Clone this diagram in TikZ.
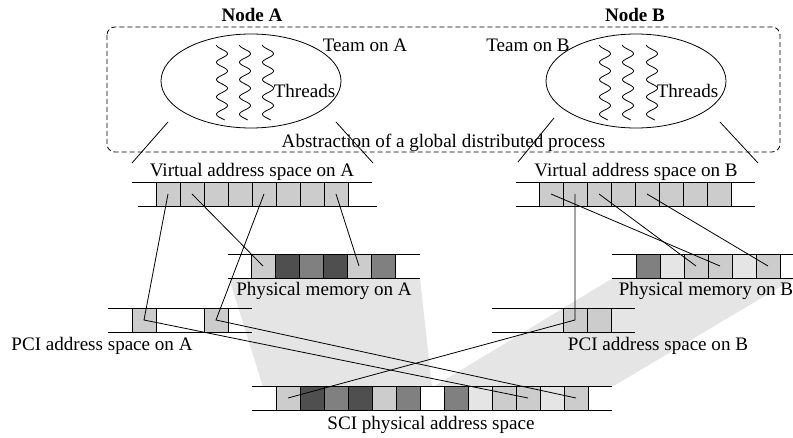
\documentclass[tikz,border=0pt]{standalone}
\usepackage{fontspec}
\setmainfont{Liberation Serif}
\usetikzlibrary{chains,positioning,shapes.geometric}
\definecolor{lgray}{gray}{0.8}
\definecolor{mgray}{gray}{0.5}
\definecolor{dgray}{gray}{0.31}
\definecolor{vlgray}{gray}{0.9}
\definecolor{bggray}{gray}{0.9}

\begin{document}
\begin{tikzpicture}[
        x=0.75pt, y=-0.75pt, node distance = 0pt, line width=0.6pt,
        MyCell/.style={draw, fill=#1, minimum size=18pt, inner sep=0pt, outer sep=0pt},
        MyLabel/.style={inner sep=0pt, anchor=base, font=\fontsize{14.3}{17}\selectfont},
        MyTitle/.style={MyLabel, font=\fontsize{14.3}{17}\selectfont\bfseries},
        MyTeam/.style={draw, ellipse, minimum width=135pt, minimum height=70.5pt, inner sep=0pt},
        wiggle/.pic={\draw plot[smooth, variable=\s, domain=0:75, samples=90] ({-5.5*cos(20.8*\s)}, \s);},
        ]
    \useasboundingbox (0,0) rectangle (793,438);

    % mapping areas
    \fill[bggray] (229,278) -- (420,278) -- (432,387) -- (263,387) -- cycle;
    \fill[bggray] (433,387) -- (613,278) -- (795,278) -- (612,387) -- cycle;

    % global process
    \draw[dash pattern=on 3.75pt off 2.25pt, rounded corners=6pt] (107,27) rectangle (780,152);
    \node[MyTeam] (teamA) at (251,81) {};
    \node[MyTeam] (teamB) at (636,81) {};
    \foreach \p in {222,245,268,605,628,652} \pic at (\p,45) {wiggle};

    \node[MyTitle] (nodeA) at (252,22) {Node A};
    \node[MyTitle] (nodeB) at (635,22) {Node B};
    \node[MyLabel] (teamAlbl) at (365,52) {Team on A};
    \node[MyLabel] (teamBlbl) at (528,52) {Team on B};
    \node[MyLabel] (thrA) at (304.5,98) {Threads};
    \node[MyLabel] (thrB) at (687.5,98) {Threads};
    \node[MyLabel] (abstr) at (443.5,148) {Abstraction of a global distributed process};

    \coordinate (eA1) at (168,122); \coordinate (vA1) at (132,163);
    \coordinate (eA2) at (336,122); \coordinate (vA2) at (373,163);
    \coordinate (eB1) at (554,118); \coordinate (vB1) at (518,162);
    \coordinate (eB2) at (720,122); \coordinate (vB2) at (758,163);
    \draw (eA1) -- (vA1);
    \draw (eA2) -- (vA2);
    \draw (eB1) -- (vB1);
    \draw (eB2) -- (vB2);

    % virtual address spaces
    \draw (132,182) -- (372,182) (138,206) -- (377,206);
    \begin{scope}[start chain = going right, shift={(168,194)}]
        \foreach \i in {1,...,8} \node[MyCell=lgray, on chain] (va\i) {};
    \end{scope}
    \draw (516,182) -- (755,182) (516,206) -- (755,206);
    \begin{scope}[start chain = going right, shift={(551,194)}]
        \foreach \i in {1,...,8} \node[MyCell=lgray, on chain] (vb\i) {};
    \end{scope}
    \node[MyLabel] (vaslblA) at (252,177) {Virtual address space on A};
    \node[MyLabel] (vaslblB) at (636,177) {Virtual address space on B};

    % physical memories
    \draw (228,254) -- (420,254) (228,278) -- (420,278);
    \begin{scope}[start chain = going right, shift={(263,266)}]
        \foreach \c [count=\i] in {lgray,dgray,mgray,dgray,lgray,mgray}
            \node[MyCell=\c, on chain] (pa\i) {};
    \end{scope}
    \draw (612,254) -- (793,254) (612,278) -- (793,278);
    \begin{scope}[start chain = going right, shift={(648,266)}]
        \foreach \c [count=\i] in {mgray,vlgray,lgray,lgray,vlgray,lgray}
            \node[MyCell=\c, on chain] (pb\i) {};
    \end{scope}
    \node[MyLabel] (pmlblA) at (324,296) {Physical memory on A};
    \node[MyLabel] (pmlblB) at (706,296) {Physical memory on B};

    % PCI address spaces
    \draw (108,308) -- (252,308) (108,332) -- (252,332);
    \node[MyCell=lgray] (pcia1) at (144,320) {};
    \node[MyCell=lgray] (pcia2) at (216,320) {};
    \draw (492,308) -- (635,308) (492,332) -- (635,332);
    \begin{scope}[start chain = going right, shift={(575,320)}]
        \foreach \i in {1,2} \node[MyCell=lgray, on chain] (pcib\i) {};
    \end{scope}
    \node[MyLabel] (pcilblA) at (102,351) {PCI address space on A};
    \node[MyLabel] (pcilblB) at (658,351) {PCI address space on B};

    % SCI physical address space
    \draw (252,386) -- (612,386) (252,410) -- (612,410);
    \begin{scope}[start chain = going right, shift={(288,398)}]
        \foreach \c [count=\i] in {lgray,dgray,mgray,dgray,lgray,mgray}
            \node[MyCell=\c, on chain] (sci\i) {};
    \end{scope}
    \begin{scope}[start chain = going right, shift={(456,398)}]
        \foreach \c [count=\i from 7] in {mgray,vlgray,lgray,lgray,vlgray,lgray}
            \node[MyCell=\c, on chain] (sci\i) {};
    \end{scope}
    \node[MyLabel] (scilbl) at (431,430) {SCI physical address space};

    % mappings
    \draw (va1.center) -- (pcia1.center) -- (sci10.center);
    \draw (va2.center) -- (pa1.center);
    \draw (va5.center) -- (pcia2.center) -- (sci12.center);
    \draw (va8.center) -- (pa5.center);
    \draw (sci1.center) -- (pcib1.center) -- (vb2.center);
    \draw (vb1.center) -- (pb4.center);
    \draw (vb3.center) -- (pb3.center);
    \draw (vb5.center) -- (pb6.center);
\end{tikzpicture}
\end{document}
